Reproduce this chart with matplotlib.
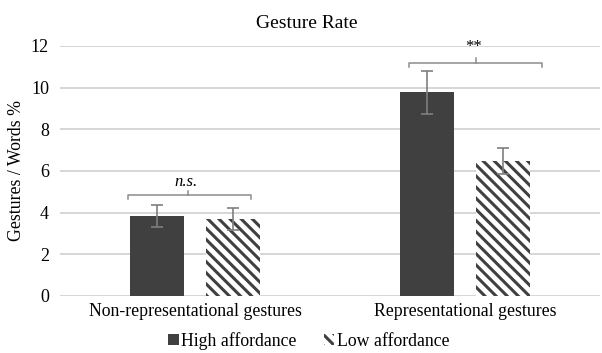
import matplotlib
matplotlib.use("Agg")
import matplotlib.pyplot as plt
import numpy as np
from matplotlib.patches import Patch

categories = ["Non-representational gestures", "Representational gestures"]
series_names = ["High affordance", "Low affordance"]
high_vals = [3.85, 9.78]
high_err = [0.52, 1.03]
low_vals = [3.70, 6.48]
low_err = [0.52, 0.62]
sig_labels = ["n.s.", "**"]
yticks = [0, 2, 4, 6, 8, 10, 12]

plt.rcParams['font.family'] = ['Liberation Serif', 'DejaVu Serif']
plt.rcParams['hatch.linewidth'] = 2.2
plt.rcParams['hatch.color'] = '#404040'

fig = plt.figure(figsize=(6.02, 3.53), dpi=100)
ax = fig.add_axes([0.0997, 0.1615, 0.897, 0.7082])

x = np.arange(len(categories))
off = 0.14
w = 0.2
ax.bar(x - off, high_vals, w, color='#404040', yerr=high_err,
       error_kw=dict(ecolor='#7f7f7f', elinewidth=1.2, capsize=4, capthick=1.2), zorder=3)
ax.bar(x + off, low_vals, w, color='white', edgecolor='#404040', linewidth=0,
       hatch='\\\\\\', yerr=low_err,
       error_kw=dict(ecolor='#7f7f7f', elinewidth=1.2, capsize=4, capthick=1.2), zorder=3)

ax.set_xlim(-0.5, 1.5)
ax.set_ylim(0, 12)
ax.set_yticks(yticks)
ax.set_xticks(x)
ax.set_xticklabels(categories, fontsize=12.8)
ax.tick_params(axis='y', labelsize=13, length=0, pad=8)
ax.tick_params(axis='x', length=0, pad=5)
ax.yaxis.grid(True, color='#d0d0d0', linewidth=1.2, zorder=0)
ax.set_axisbelow(True)
for s in ax.spines.values():
    s.set_visible(False)
ax.set_ylabel("Gestures / Words %", fontsize=12.8)
ax.yaxis.set_label_coords(-0.064, 0.5)
fig.text(307 / 602, 1 - 23 / 353, "Gesture Rate", fontsize=14, ha='center', va='center')

# significance brackets
brackets = [(-0.25, 0.207, 4.86, -0.025, 5.45), (0.793, 1.285, 11.2, 1.04, 11.97)]
for (x0, x1, yb, xc, yt), lab in zip(brackets, sig_labels):
    d = 0.2
    ax.plot([x0, x0, x1, x1], [yb - d, yb, yb, yb - d], color='#8c8c8c', lw=1.1, zorder=4, clip_on=False)
    ax.plot([xc, xc], [yb, yb + d], color='#8c8c8c', lw=1.1, zorder=4, clip_on=False)
    style = 'italic' if lab == "n.s." else 'normal'
    ax.text(xc - 0.01, yt, lab, ha='center', va='center', fontsize=12, style=style, clip_on=False)

handles = [Patch(facecolor='#404040', edgecolor='none'),
           Patch(facecolor='white', edgecolor='#404040', linewidth=0, hatch='\\\\\\')]
fig.legend(handles, series_names, loc='center', bbox_to_anchor=(0.5125, 1 - 341 / 353), ncol=2,
           frameon=False, fontsize=12.8, handlelength=0.6, handleheight=0.6,
           handletextpad=0.12, columnspacing=1.55, borderpad=0)

fig.savefig("out.png", dpi=100)
